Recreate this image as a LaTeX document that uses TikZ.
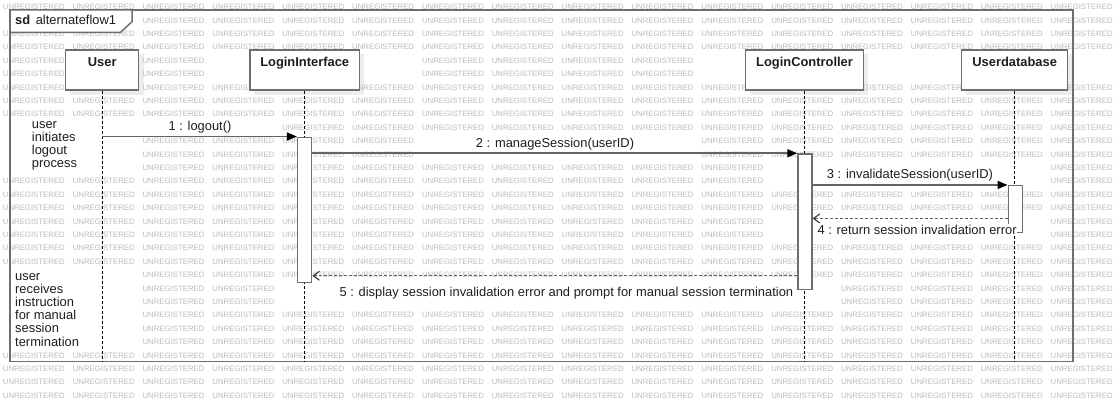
\documentclass[tikz,border=0pt]{standalone}
\usepackage{fontspec}
\setmainfont{Liberation Sans}
\usetikzlibrary{arrows.meta,calc}
\definecolor{wmgray}{RGB}{188,188,188}
\definecolor{boxgray}{RGB}{110,110,110}
\definecolor{linegray}{RGB}{100,100,100}
\definecolor{txt}{RGB}{30,30,30}
\newif\ifwmshow
\tikzset{
  every node/.style={font=\fontsize{12.9}{13.2}\selectfont, text=txt},
  wm/.style={font=\fontsize{7.8}{8}\selectfont, text=wmgray, inner sep=0pt, anchor=west},
  head/.style={draw=boxgray, line width=1.5pt, fill=white, inner xsep=0pt, inner ysep=0pt,
    text height=16.7pt, text depth=23.3pt, font=\fontsize{12.9}{13.2}\selectfont\bfseries},
  headshadow/.style={fill=black!7, draw=none},
  act/.style={draw=boxgray, line width=1.5pt, fill=white, inner sep=0pt, minimum width=14pt},
  lifeline/.style={black, line width=1pt, dash pattern=on 3pt off 2pt},
  msg/.style={linegray, line width=1.5pt, -{Triangle[length=10pt,width=8pt,black]}},
  ret/.style={linegray, line width=1.3pt, dash pattern=on 3pt off 2pt, -{Straight Barb[length=6pt,width=9pt,line width=1.1pt,black!80]}},
  lbl/.style={fill=white, inner sep=0.6pt},
  note/.style={align=left, inner sep=0pt, anchor=base west},
}
\begin{document}
\begin{tikzpicture}[x=1pt,y=-1pt]
\useasboundingbox (0,0) rectangle (1114,409);
\fill[white] (0,0) rectangle (1114,409);
% head shadows
\foreach \a/\b in {65.7/138.7, 250/359.3, 745.7/863.3, 961.7/1067.7}
  \fill[headshadow] (\a+4,54) rectangle (\b+5,95);
% watermark (instances that would sit under a text are left out)
\foreach \j in {0,...,15}{
  \foreach \k in {0,...,29}{
    \pgfmathsetmacro\wx{2.7+69.85*\j}
    \pgfmathsetmacro\wy{7+13.4*\k}
    \global\wmshowtrue
    \foreach \ax/\ay/\bx/\by in {14/14/118/29, 85/54/121/71, 258/54/352/71, 755/54/855/71, 970/54/1060/71,
        166/121/233/135, 474/138/636/152, 825/168/995/182, 814/224/1017/238, 338/286/796/300,
        30/118/82/170, 13/270/82/349}{
      \pgfmathparse{((\wx+61>\ax)&&(\wx<\bx)&&(\wy+3>\ay)&&(\wy-3<\by))?1:0}
      \ifnum\pgfmathresult=1 \global\wmshowfalse\fi
    }
    \ifwmshow \node[wm] at (\wx,\wy) {UNREGISTERED};\fi
  }
}
% frame
\draw[boxgray, line width=1.5pt] (10,10) rectangle (1073,361.7);
\draw[boxgray, line width=1.5pt, fill=white] (10,10) -- (132,10) -- (132,21.7) -- (120.5,32.3) -- (10,32.3) -- cycle;
\node[anchor=base west, inner sep=0pt] (title) at (15,25) {\textbf{sd}\hspace{5.5pt}alternateflow1};
\coordinate (fb) at (0,361.7);
% heads
\node[head, minimum width=73pt] (user) at (102.2,70) {User};
\node[head, minimum width=109.3pt] (li) at (304.7,70) {LoginInterface};
\node[head, minimum width=117.6pt] (lc) at (804.5,70) {LoginController};
\node[head, minimum width=106pt] (ud) at (1014.7,70) {Userdatabase};
% lifelines
\draw[lifeline] (user.south) -- (user.south |- fb);
\draw[lifeline] (li.south) -- (li.south |- fb);
\draw[lifeline] (lc.south) -- (lc.south |- fb);
\draw[lifeline] (ud.south) -- (ud.south |- fb);
% activations
\node[act, minimum height=145pt] (liA) at (304.7,209.8) {};
\node[act, minimum height=135.3pt] (lcA) at (805,221.65) {};
\node[act, minimum height=47pt] (udA) at (1015.3,209.2) {};
% messages
\draw[msg] (user.south |- liA.north west) -- (liA.north west);
\draw[msg] (liA.east |- lcA.north west) -- (lcA.north west);
\draw[msg] (lcA.east |- udA.north west) -- (udA.north west);
\coordinate (r4) at ([yshift=15pt]udA.south west);
\draw[ret] (r4) -- (lcA.east |- r4);
\coordinate (r5) at ([yshift=14.3pt]lcA.south west);
\draw[ret] (r5) -- (liA.east |- r5);
% message labels
\node[lbl, anchor=base] (m1) at (200,131) {1 : logout()};
\node[lbl, anchor=base] (m2) at (555,148) {2 : manageSession(userID)};
\node[lbl, anchor=base] (m3) at (910,178.7) {3 : invalidateSession(userID)};
\node[lbl, anchor=base west] (m4) at (816.7,234) {4 : return session invalidation error};
\node[lbl, anchor=base east] (m5) at (794,296.7) {5 : display session invalidation error and prompt for manual session termination};
% notes
\node[note] (n1) at (31.7,167.7) {user\\initiates\\logout\\process};
\node[note] (n2) at (15,346) {user\\receives\\instruction\\for manual\\session\\termination};
\end{tikzpicture}
\end{document}
